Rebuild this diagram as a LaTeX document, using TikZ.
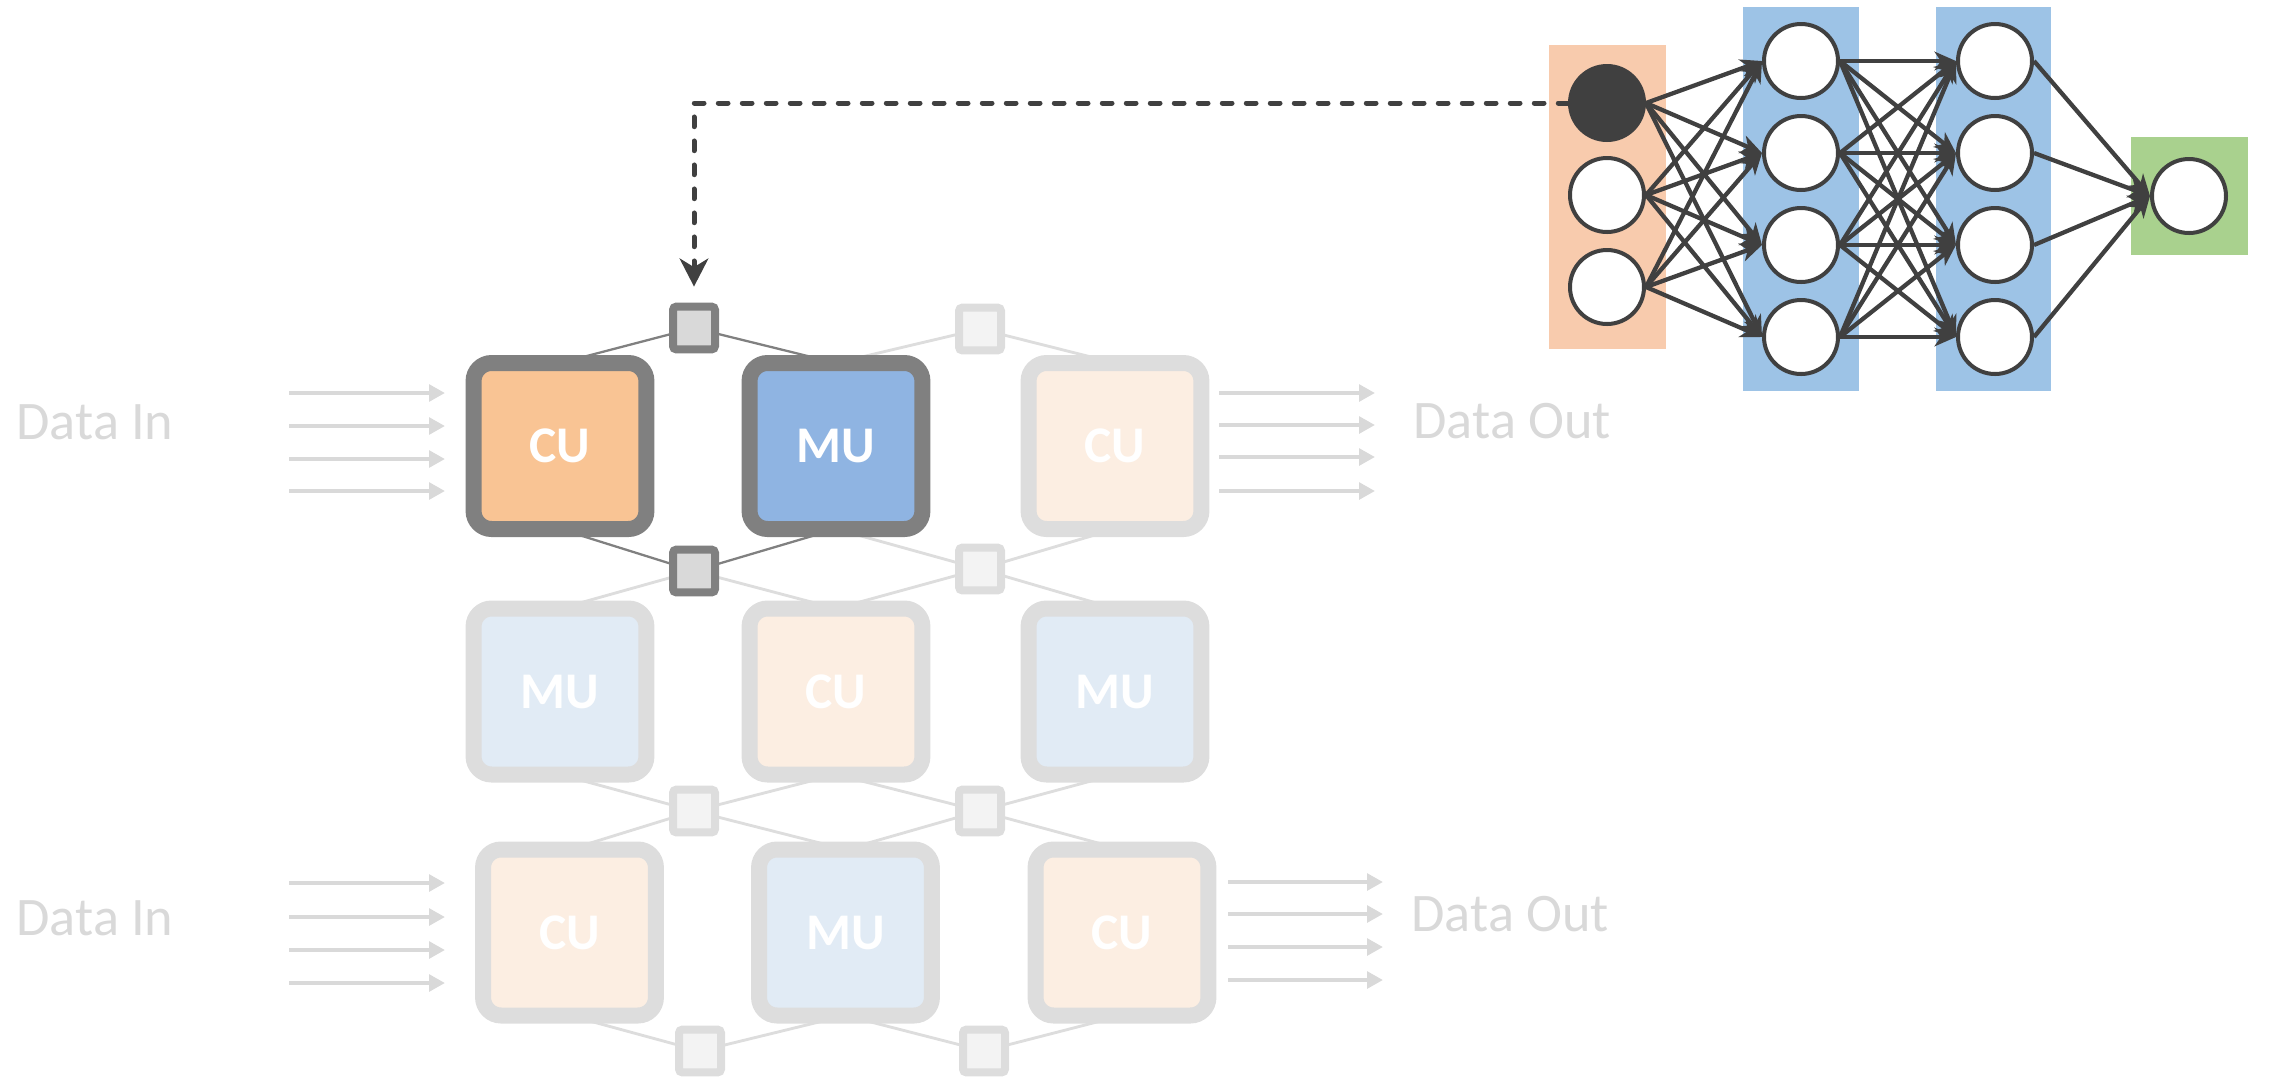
\documentclass[tikz,border=0pt]{standalone}
\usepackage{fontspec}
\setmainfont{Carlito}
\usetikzlibrary{arrows.meta}

\definecolor{inkdark}{HTML}{404040}
\definecolor{edgegray}{HTML}{808080}
\definecolor{fadegray}{HTML}{DDDDDD}
\definecolor{cufill}{RGB}{249,196,148}
\definecolor{mufill}{RGB}{143,180,226}
\definecolor{cufade}{RGB}{252,238,226}
\definecolor{mufade}{RGB}{225,235,245}
\definecolor{swfill}{HTML}{D9D9D9}
\definecolor{swfade}{HTML}{F3F3F3}
\definecolor{inlayer}{HTML}{F8CBAD}
\definecolor{hidlayer}{HTML}{9DC3E6}
\definecolor{outlayer}{HTML}{A9D18E}
\definecolor{datatext}{HTML}{D9D9D9}

\pgfdeclarelayer{links}
\pgfsetlayers{links,main}

\begin{document}
\begin{tikzpicture}[x=0.35pt,y=-0.35pt,
  unit/.style={rounded corners=6.3pt, line width=5.6pt, outer sep=0pt,
    minimum width=60.5pt, minimum height=58.1pt, inner sep=0pt,
    text=white, font=\fontsize{18}{18}\selectfont\bfseries},
  cuon/.style={unit, draw=edgegray, fill=cufill},
  muon/.style={unit, draw=edgegray, fill=mufill},
  cuoff/.style={unit, draw=fadegray, fill=cufade},
  muoff/.style={unit, draw=fadegray, fill=mufade},
  switch/.style={rounded corners=1.2pt, line width=2.8pt, outer sep=0pt,
    minimum width=14.7pt, minimum height=15pt, inner sep=0pt},
  swon/.style={switch, draw=edgegray, fill=swfill},
  swoff/.style={switch, draw=fadegray, fill=swfade},
  linkon/.style={draw=edgegray, line width=0.8pt},
  linkoff/.style={draw=fadegray, line width=1pt},
  bus/.style={draw=datatext, line width=1.4pt,
    -{Triangle[length=5.6pt,width=5.8pt]}},
  datalabel/.style={text=datatext, font=\fontsize{19}{19}\selectfont,
    inner sep=0pt, anchor=base west},
  neuron/.style={circle, draw=inkdark, line width=1.4pt, fill=white,
    minimum size=25.9pt, inner sep=0pt},
  synapse/.style={draw=inkdark, line width=1.5pt,
    -{Stealth[length=7.5pt,width=6.5pt,inset=2.2pt]}},
  probe/.style={draw=inkdark, line width=1.75pt, line cap=round,
    dash pattern=on 3.4pt off 5pt,
    -{Stealth[length=9.8pt,width=10pt,inset=3pt]}, shorten >=7pt}
]
\useasboundingbox (0,0) rectangle (2270,1078);

% ---------- layer backgrounds of the network ----------
\fill[inlayer]  (1549,45)  rectangle (1666,349);
\fill[hidlayer] (1743,7)   rectangle (1859,391);
\fill[hidlayer] (1936,7)   rectangle (2051,391);
\fill[outlayer] (2131,137) rectangle (2248,255);

% ---------- compute / memory units ----------
\path
  (560,446)    node[cuon]  (r1c1) {CU}
  (836,446)    node[muon]  (r1c2) {MU}
  (1115,446)   node[cuoff] (r1c3) {CU}
  (560,691.5)  node[muoff] (r2c1) {MU}
  (836,691.5)  node[cuoff] (r2c2) {CU}
  (1115,691.5) node[muoff] (r2c3) {MU}
  (569.5,932.5) node[cuoff] (r3c1) {CU}
  (845.5,932.5) node[muoff] (r3c2) {MU}
  (1122,932.5)  node[cuoff] (r3c3) {CU};

% ---------- switches of the fabric ----------
\node[swon]  (t1) at (694,328)  {};
\node[swoff] (t2) at (980,329)  {};
\node[swon]  (m1) at (694,571)  {};
\node[swoff] (m2) at (980,569)  {};
\node[swoff] (n1) at (694,811)  {};
\node[swoff] (n2) at (980,811)  {};
\node[swoff] (u1) at (700,1051) {};
\node[swoff] (u2) at (984,1051) {};

% ---------- links between switches and units, behind everything ----------
\begin{pgfonlayer}{links}
\draw[linkoff] (t2.center) -- (r1c2.north);
\draw[linkoff] (t2.center) -- (r1c3.north);
\draw[linkoff] (m1.center) -- (r2c1.north);
\draw[linkoff] (m1.center) -- (r2c2.north);
\draw[linkoff] (m2.center) -- (r1c2.south);
\draw[linkoff] (m2.center) -- (r1c3.south);
\draw[linkoff] (m2.center) -- (r2c2.north);
\draw[linkoff] (m2.center) -- (r2c3.north);
\draw[linkoff] (n1.center) -- (r2c1.south);
\draw[linkoff] (n1.center) -- (r2c2.south);
\draw[linkoff] (n1.center) -- (r3c1.north);
\draw[linkoff] (n1.center) -- (r3c2.north);
\draw[linkoff] (n2.center) -- (r2c2.south);
\draw[linkoff] (n2.center) -- (r2c3.south);
\draw[linkoff] (n2.center) -- (r3c2.north);
\draw[linkoff] (n2.center) -- (r3c3.north);
\draw[linkoff] (u1.center) -- (r3c1.south);
\draw[linkoff] (u1.center) -- (r3c2.south);
\draw[linkoff] (u2.center) -- (r3c2.south);
\draw[linkoff] (u2.center) -- (r3c3.south);
\draw[linkon]  (t1.center) -- (r1c1.north);
\draw[linkon]  (t1.center) -- (r1c2.north);
\draw[linkon]  (m1.center) -- (r1c1.south);
\draw[linkon]  (m1.center) -- (r1c2.south);
\end{pgfonlayer}

% ---------- data buses ----------
\foreach \yy [count=\k] in {393,426,459,491} {
  \coordinate (ia\k) at (289,\yy);  \coordinate (ib\k) at (445,\yy);
  \draw[bus] (ia\k) -- (ib\k);
}
\foreach \yy [count=\k] in {393,425,457,491} {
  \coordinate (oa\k) at (1219,\yy); \coordinate (ob\k) at (1375,\yy);
  \draw[bus] (oa\k) -- (ob\k);
}
\foreach \yy [count=\k] in {883,917,950,983} {
  \coordinate (ja\k) at (289,\yy);  \coordinate (jb\k) at (445,\yy);
  \draw[bus] (ja\k) -- (jb\k);
}
\foreach \yy [count=\k] in {882,914,947,980} {
  \coordinate (pa\k) at (1228,\yy); \coordinate (pb\k) at (1383,\yy);
  \draw[bus] (pa\k) -- (pb\k);
}
\node[datalabel] (din1)  at (16,439)   {Data In};
\node[datalabel] (din3)  at (16,935)   {Data In};
\node[datalabel] (dout1) at (1413,438) {Data Out};
\node[datalabel] (dout3) at (1411,931) {Data Out};

% ---------- neural network ----------
\node[neuron, fill=inkdark] (i1) at (1607,103) {};
\node[neuron] (i2) at (1607,195) {};
\node[neuron] (i3) at (1607,287) {};
\foreach \yy [count=\k] in {61,153,245,337} {
  \node[neuron] (a\k) at (1801,\yy) {};
  \node[neuron] (b\k) at (1995,\yy) {};
}
\node[neuron] (o) at (2189,196) {};

\foreach \s in {1,2,3} \foreach \t in {1,2,3,4}
  \draw[synapse] (i\s.east) -- (a\t.west);
\foreach \s in {1,2,3,4} \foreach \t in {1,2,3,4}
  \draw[synapse] (a\s.east) -- (b\t.west);
\foreach \s in {1,2,3,4}
  \draw[synapse] (b\s.east) -- (o.west);

% ---------- mapping of a neuron onto the fabric ----------
\draw[probe] (i1.west) -| (t1.north);
\end{tikzpicture}
\end{document}
